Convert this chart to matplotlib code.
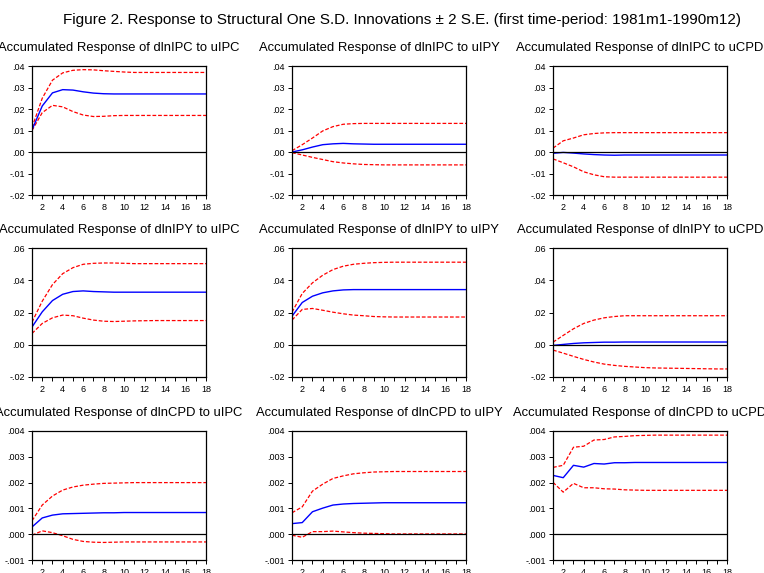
import numpy as np
import matplotlib.pyplot as plt
from matplotlib.ticker import FuncFormatter

plt.rcParams['font.family'] = ['Liberation Sans', 'DejaVu Sans']

periods = list(range(1, 19))

titles = [
    "Accumulated Response of dlnIPC to uIPC",
    "Accumulated Response of dlnIPC to uIPY",
    "Accumulated Response of dlnIPC to uCPD",
    "Accumulated Response of dlnIPY to uIPC",
    "Accumulated Response of dlnIPY to uIPY",
    "Accumulated Response of dlnIPY to uCPD",
    "Accumulated Response of dlnCPD to uIPC",
    "Accumulated Response of dlnCPD to uIPY",
    "Accumulated Response of dlnCPD to uCPD",
]

# point estimates (blue)
resp = [
    [.0103, .0214, .0275, .0290, .0288, .0280, .0274, .0271, .0270, .0270, .0270, .0270, .0270, .0270, .0270, .0270, .0270, .0270],
    [.0000, .0010, .0023, .0034, .0038, .0040, .0038, .0037, .0036, .0036, .0036, .0036, .0036, .0036, .0036, .0036, .0036, .0036],
    [-.0006, -.0002, -.0005, -.0009, -.0012, -.0014, -.0015, -.0014, -.0014, -.0014, -.0014, -.0014, -.0014, -.0014, -.0014, -.0014, -.0014, -.0014],
    [.0110, .0204, .0274, .0313, .0330, .0334, .0330, .0328, .0326, .0326, .0326, .0326, .0326, .0326, .0326, .0326, .0326, .0326],
    [.0177, .0262, .0301, .0322, .0334, .0340, .0342, .0342, .0342, .0342, .0342, .0342, .0342, .0342, .0342, .0342, .0342, .0342],
    [-.0004, .0002, .0008, .0012, .0014, .0016, .0016, .0017, .0017, .0017, .0017, .0017, .0017, .0017, .0017, .0017, .0017, .0017],
    [.00028, .00063, .00074, .00079, .00080, .00081, .00082, .00083, .00083, .00084, .00084, .00084, .00084, .00084, .00084, .00084, .00084, .00084],
    [.00041, .00045, .00087, .00101, .00113, .00117, .00119, .00120, .00121, .00122, .00122, .00122, .00122, .00122, .00122, .00122, .00122, .00122],
    [.00228, .00219, .00267, .00260, .00274, .00272, .00277, .00277, .00278, .00278, .00278, .00278, .00278, .00278, .00278, .00278, .00278, .00278],
]

# +2 S.E. band (red, upper)
upper = [
    [.0114, .0250, .0334, .0368, .0380, .0383, .0382, .0378, .0375, .0372, .0370, .0370, .0370, .0370, .0370, .0370, .0370, .0370],
    [.0006, .0034, .0065, .0098, .0118, .0129, .0132, .0133, .0133, .0133, .0133, .0133, .0133, .0133, .0133, .0133, .0133, .0133],
    [.0018, .0052, .0065, .0080, .0086, .0089, .0090, .0090, .0090, .0090, .0090, .0090, .0090, .0090, .0090, .0090, .0090, .0090],
    [.0140, .0270, .0373, .0441, .0478, .0499, .0505, .0507, .0507, .0505, .0503, .0503, .0503, .0503, .0503, .0503, .0503, .0503],
    [.0202, .0318, .0384, .0431, .0466, .0487, .0499, .0505, .0509, .0511, .0512, .0512, .0512, .0512, .0512, .0512, .0512, .0512],
    [.0016, .0058, .0099, .0132, .0153, .0167, .0175, .0180, .0180, .0180, .0180, .0180, .0180, .0180, .0180, .0180, .0180, .0180],
    [.00052, .00113, .00148, .00171, .00183, .00190, .00194, .00197, .00198, .00199, .00200, .00200, .00200, .00200, .00200, .00200, .00200, .00200],
    [.00083, .00106, .00167, .00194, .00216, .00226, .00234, .00238, .00241, .00242, .00243, .00243, .00243, .00243, .00243, .00243, .00243, .00243],
    [.00259, .00267, .00337, .00341, .00365, .00367, .00377, .00379, .00382, .00383, .00384, .00384, .00384, .00384, .00384, .00384, .00384, .00384],
]

# -2 S.E. band (red, lower)
lower = [
    [.0100, .0183, .0217, .0210, .0188, .0172, .0165, .0166, .0169, .0170, .0170, .0170, .0170, .0170, .0170, .0170, .0170, .0170],
    [-.0003, -.0014, -.0025, -.0035, -.0045, -.0051, -.0055, -.0058, -.0059, -.0060, -.0060, -.0060, -.0060, -.0060, -.0060, -.0060, -.0060, -.0060],
    [-.0032, -.0050, -.0069, -.0092, -.0106, -.0115, -.0117, -.0117, -.0117, -.0117, -.0117, -.0117, -.0117, -.0117, -.0117, -.0117, -.0117, -.0117],
    [.0070, .0132, .0167, .0184, .0180, .0165, .0153, .0146, .0144, .0146, .0148, .0149, .0150, .0150, .0150, .0150, .0150, .0150],
    [.0153, .0219, .0225, .0214, .0202, .0192, .0184, .0180, .0175, .0173, .0172, .0172, .0172, .0172, .0172, .0172, .0172, .0172],
    [-.0033, -.0052, -.0072, -.0091, -.0107, -.0120, -.0128, -.0134, -.0138, -.0142, -.0144, -.0145, -.0146, -.0147, -.0148, -.0149, -.0150, -.0150],
    [-.00004, .00013, .00006, -.00006, -.00020, -.00028, -.00031, -.00032, -.00031, -.00030, -.00030, -.00030, -.00030, -.00030, -.00030, -.00030, -.00030, -.00030],
    [-.00004, -.00012, .00010, .00010, .00012, .00009, .00006, .00004, .00003, .00002, .00001, .00001, .00001, .00001, .00001, .00001, .00001, .00001],
    [.00201, .00163, .00197, .00180, .00180, .00176, .00175, .00172, .00171, .00170, .00170, .00170, .00170, .00170, .00170, .00170, .00170, .00170],
]

row_ylims = [(-0.02, 0.04), (-0.02, 0.06), (-0.001, 0.004)]
row_yticks = [np.arange(-0.02, 0.041, 0.01), np.arange(-0.02, 0.061, 0.02), np.arange(-0.001, 0.0041, 0.001)]
row_decimals = [2, 2, 3]


def make_fmt(dec):
    def f(v, pos):
        s = f"{v:.{dec}f}"
        if s.startswith("-0"):
            s = "-" + s[2:]
        elif s.startswith("0"):
            s = s[1:]
        return s
    return f


fig = plt.figure(figsize=(7.64, 5.73), dpi=100)
fig.suptitle("Figure 2. Response to Structural One S.D. Innovations \u00b1 2 S.E. (first time-period: 1981m1-1990m12)",
             x=0.526, y=0.978, fontsize=11)

lefts = [32, 292, 553]
tops = [66, 248, 431]
W, H = 764, 573

for i in range(9):
    r, c = divmod(i, 3)
    ax = fig.add_axes([lefts[c] / W, 1 - (tops[r] + 129) / H, 174 / W, 129 / H])
    ax.plot(periods, upper[i], color='#ff0000', lw=0.9, dashes=(3, 1.5))
    ax.plot(periods, lower[i], color='#ff0000', lw=0.9, dashes=(3, 1.5))
    ax.plot(periods, resp[i], color='#0000ff', lw=1.0)
    ax.axhline(0, color='black', lw=0.9)
    ax.set_xlim(1, 18)
    ax.set_ylim(*row_ylims[r])
    ax.set_yticks(row_yticks[r])
    ax.yaxis.set_major_formatter(FuncFormatter(make_fmt(row_decimals[r])))
    ax.set_xticks(periods)
    ax.set_xticklabels([str(p) if p % 2 == 0 else '' for p in periods])
    ax.tick_params(direction='out', length=3, width=0.7, labelsize=6.5, pad=2)
    ax.tick_params(axis='x', pad=3)
    for sp in ax.spines.values():
        sp.set_linewidth(0.9)
    ax.set_title(titles[i], fontsize=9.4, pad=11)

fig.savefig("out.png", dpi=100)
